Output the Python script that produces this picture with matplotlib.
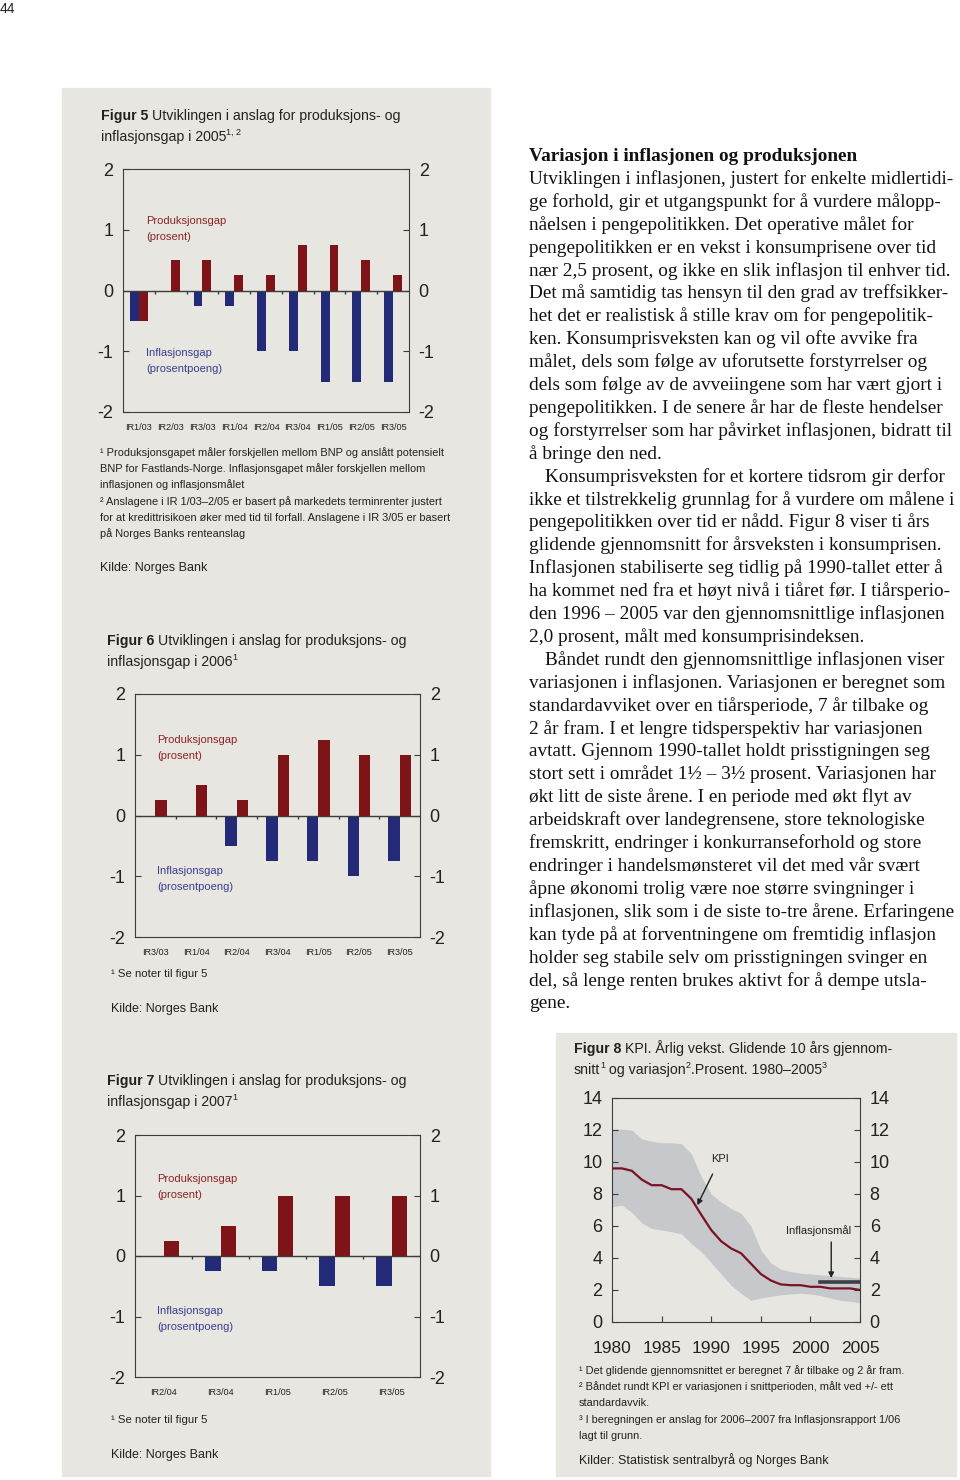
import numpy as np
import matplotlib.pyplot as plt
from matplotlib.patches import Rectangle

plt.rcParams['axes.unicode_minus'] = False

W, H = 960, 1480
SANS = ['Liberation Sans', 'DejaVu Sans']
SERIF = ['Liberation Serif', 'DejaVu Serif']
PANEL = '#e7e6e0'
RED = '#7e1417'
BLUE = '#232a78'
RED_TXT = '#8c2326'
BLUE_TXT = '#3b3f8f'
DARK = '#3c3c3c'

# figur 5
fig5_labels = ['IR1/03', 'IR2/03', 'IR3/03', 'IR1/04', 'IR2/04', 'IR3/04', 'IR1/05', 'IR2/05', 'IR3/05']
fig5_prod = [-0.5, 0.5, 0.5, 0.25, 0.25, 0.75, 0.75, 0.5, 0.25]
fig5_infl = [-0.5, 0, -0.25, -0.25, -1, -1, -1.5, -1.5, -1.5]

# figur 6
fig6_labels = ['IR3/03', 'IR1/04', 'IR2/04', 'IR3/04', 'IR1/05', 'IR2/05', 'IR3/05']
fig6_prod = [0.25, 0.5, 0.25, 1, 1.25, 1, 1]
fig6_infl = [0, 0, -0.5, -0.75, -0.75, -1, -0.75]

# figur 7
fig7_labels = ['IR2/04', 'IR3/04', 'IR1/05', 'IR2/05', 'IR3/05']
fig7_prod = [0.25, 0.5, 1, 1, 1]
fig7_infl = [0, -0.25, -0.25, -0.5, -0.5]

# figur 8
kpi_years = np.arange(1980, 2006)
kpi_mean = [9.6, 9.6, 9.45, 8.9, 8.55, 8.55, 8.3, 8.3, 7.7, 6.7, 5.75, 5.05, 4.6,
            4.3, 3.65, 3.0, 2.6, 2.35, 2.3, 2.3, 2.2, 2.2, 2.1, 2.1, 2.1, 2.0]
kpi_upper = [12.05, 12.05, 12.0, 11.45, 11.3, 11.2, 11.2, 11.15, 10.5, 9.1, 8.0, 7.5, 7.1,
             6.8, 6.0, 4.5, 3.7, 3.3, 3.15, 3.05, 3.0, 2.95, 2.9, 2.85, 2.8, 2.75]
kpi_lower = [7.2, 7.3, 6.85, 6.2, 5.85, 5.75, 5.65, 5.5, 4.9, 4.4, 3.7, 3.0, 2.3,
             1.8, 1.35, 1.5, 1.6, 1.7, 1.75, 1.8, 1.75, 1.65, 1.5, 1.35, 1.3, 1.2]
target_years = [2001, 2005]
target_level = [2.5, 2.5]

body_lines = [
    ('Utviklingen i inflasjonen, justert for enkelte midlertidi-', 0),
    ('ge forhold, gir et utgangspunkt for å vurdere målopp-', 0),
    ('nåelsen i pengepolitikken. Det operative målet for', 0),
    ('pengepolitikken er en vekst i konsumprisene over tid', 0),
    ('nær 2,5 prosent, og ikke en slik inflasjon til enhver tid.', 0),
    ('Det må samtidig tas hensyn til den grad av treffsikker-', 0),
    ('het det er realistisk å stille krav om for pengepolitik-', 0),
    ('ken. Konsumprisveksten kan og vil ofte avvike fra', 0),
    ('målet, dels som følge av uforutsette forstyrrelser og', 0),
    ('dels som følge av de avveiingene som har vært gjort i', 0),
    ('pengepolitikken. I de senere år har de fleste hendelser', 0),
    ('og forstyrrelser som har påvirket inflasjonen, bidratt til', 0),
    ('å bringe den ned.', 0),
    ('Konsumprisveksten for et kortere tidsrom gir derfor', 1),
    ('ikke et tilstrekkelig grunnlag for å vurdere om målene i', 0),
    ('pengepolitikken over tid er nådd. Figur 8 viser ti års', 0),
    ('glidende gjennomsnitt for årsveksten i konsumprisen.', 0),
    ('Inflasjonen stabiliserte seg tidlig på 1990-tallet etter å', 0),
    ('ha kommet ned fra et høyt nivå i tiåret før. I tiårsperio-', 0),
    ('den 1996 – 2005 var den gjennomsnittlige inflasjonen', 0),
    ('2,0 prosent, målt med konsumprisindeksen.', 0),
    ('Båndet rundt den gjennomsnittlige inflasjonen viser', 1),
    ('variasjonen i inflasjonen. Variasjonen er beregnet som', 0),
    ('standardavviket over en tiårsperiode, 7 år tilbake og', 0),
    ('2 år fram. I et lengre tidsperspektiv har variasjonen', 0),
    ('avtatt. Gjennom 1990-tallet holdt prisstigningen seg', 0),
    ('stort sett i området 1½ – 3½ prosent. Variasjonen har', 0),
    ('økt litt de siste årene. I en periode med økt flyt av', 0),
    ('arbeidskraft over landegrensene, store teknologiske', 0),
    ('fremskritt, endringer i konkurranseforhold og store', 0),
    ('endringer i handelsmønsteret vil det med vår svært', 0),
    ('åpne økonomi trolig være noe større svingninger i', 0),
    ('inflasjonen, slik som i de siste to-tre årene. Erfaringene', 0),
    ('kan tyde på at forventningene om fremtidig inflasjon', 0),
    ('holder seg stabile selv om prisstigningen svinger en', 0),
    ('del, så lenge renten brukes aktivt for å dempe utsla-', 0),
    ('gene.', 0),
]

TITLE = 10.2
LEGEND = 8.0
NOTE = 7.9
SOURCE = 9.0
TICK = 13
BODY = 13.9

fig = plt.figure(figsize=(9.6, 14.8), dpi=100)
fig.patch.set_facecolor('white')
renderer = fig.canvas.get_renderer()


def fx(x):
    return x / W


def fy(y):
    return 1 - y / H


def rect(x0, y0, x1, y1):
    return [x0 / W, 1 - y1 / H, (x1 - x0) / W, (y1 - y0) / H]


def txt(x, y, s, size, family=SANS, **kw):
    kw.setdefault('va', 'baseline')
    return fig.text(fx(x), fy(y), s, fontsize=size, family=family, **kw)


def seq(x, y, parts, family=SANS, color='#222222'):
    # parts: (text, size, weight, raise in px)
    for s, size, weight, dy in parts:
        t = txt(x, y - dy, s, size, family=family, weight=weight, color=color)
        x += t.get_window_extent(renderer).width


# grey panels
for x0, y0, x1, y1 in [(62, 88, 490, 1476), (556, 1033, 956, 1476)]:
    fig.add_artist(Rectangle((fx(x0), fy(y1)), (x1 - x0) / W, (y1 - y0) / H,
                             transform=fig.transFigure, color=PANEL, zorder=-5))

txt(0, 13, '44', 10, color='#222222')


def gap_chart(box, labels, prod, infl):
    ax = fig.add_axes(rect(*box))
    ax.set_facecolor('none')
    n = len(labels)
    x = np.arange(n)
    w = 0.28
    ax.bar(x - w / 2, infl, w, color=BLUE, zorder=2)
    ax.bar(x + w / 2, prod, w, color=RED, zorder=2)
    ax.axhline(0, color=DARK, lw=1, zorder=3)
    ax.vlines(np.arange(n - 1) + 0.5, -0.05, 0, color=DARK, lw=1, zorder=3)
    ax.set_xlim(-0.5, n - 0.5)
    ax.set_ylim(-2, 2)
    ax.set_yticks([-2, -1, 0, 1, 2], ['-2', '-1', '0', '1', '2'])
    ax.tick_params(axis='y', direction='in', left=True, right=True,
                   labelleft=True, labelright=True, length=4, width=0.8,
                   color=DARK, labelsize=TICK, pad=7, labelcolor='#222222')
    ax.set_xticks(x, labels)
    ax.tick_params(axis='x', length=0, labelsize=6.6, pad=8, labelcolor='#222222')
    for lab in ax.get_xticklabels() + ax.get_yticklabels():
        lab.set_family(SANS)
    for sp in ax.spines.values():
        sp.set_color(DARK)
        sp.set_linewidth(0.8)
    return ax


# ---- Figur 5
seq(101, 120, [('Figur 5 ', TITLE, 'bold', 0), ('Utviklingen i anslag for produksjons- og', TITLE, 'normal', 0)])
seq(101, 141, [('inflasjonsgap i 2005', TITLE, 'normal', 0), ('1, 2', 6.5, 'normal', 6)])
gap_chart((123, 169, 409, 412), fig5_labels, fig5_prod, fig5_infl)
txt(146, 224, 'Produksjonsgap', LEGEND, color=RED_TXT)
txt(146, 240, '(prosent)', LEGEND, color=RED_TXT)
txt(146, 356, 'Inflasjonsgap', LEGEND, color=BLUE_TXT)
txt(146, 372, '(prosentpoeng)', LEGEND, color=BLUE_TXT)
fn5 = ['¹ Produksjonsgapet måler forskjellen mellom BNP og anslått potensielt',
       'BNP for Fastlands-Norge. Inflasjonsgapet måler forskjellen mellom',
       'inflasjonen og inflasjonsmålet',
       '² Anslagene i IR 1/03–2/05 er basert på markedets terminrenter justert',
       'for at kredittrisikoen øker med tid til forfall. Anslagene i IR 3/05 er basert',
       'på Norges Banks renteanslag']
for i, line in enumerate(fn5):
    txt(100, 456 + i * 16.2, line, NOTE, color='#222222')
txt(100, 571, 'Kilde: Norges Bank', SOURCE, color='#222222')

# ---- Figur 6
seq(107, 645, [('Figur 6 ', TITLE, 'bold', 0), ('Utviklingen i anslag for produksjons- og', TITLE, 'normal', 0)])
seq(107, 666, [('inflasjonsgap i 2006', TITLE, 'normal', 0), ('1', 6.5, 'normal', 6)])
gap_chart((135, 694, 420, 937), fig6_labels, fig6_prod, fig6_infl)
txt(157, 743, 'Produksjonsgap', LEGEND, color=RED_TXT)
txt(157, 759, '(prosent)', LEGEND, color=RED_TXT)
txt(157, 874, 'Inflasjonsgap', LEGEND, color=BLUE_TXT)
txt(157, 890, '(prosentpoeng)', LEGEND, color=BLUE_TXT)
txt(111, 977, '¹ Se noter til figur 5', 8.2, color='#222222')
txt(111, 1012, 'Kilde: Norges Bank', SOURCE, color='#222222')

# ---- Figur 7
seq(107, 1085, [('Figur 7 ', TITLE, 'bold', 0), ('Utviklingen i anslag for produksjons- og', TITLE, 'normal', 0)])
seq(107, 1106, [('inflasjonsgap i 2007', TITLE, 'normal', 0), ('1', 6.5, 'normal', 6)])
gap_chart((135, 1135, 420, 1377), fig7_labels, fig7_prod, fig7_infl)
txt(157, 1182, 'Produksjonsgap', LEGEND, color=RED_TXT)
txt(157, 1198, '(prosent)', LEGEND, color=RED_TXT)
txt(157, 1314, 'Inflasjonsgap', LEGEND, color=BLUE_TXT)
txt(157, 1330, '(prosentpoeng)', LEGEND, color=BLUE_TXT)
txt(111, 1423, '¹ Se noter til figur 5', 8.2, color='#222222')
txt(111, 1458, 'Kilde: Norges Bank', SOURCE, color='#222222')

# ---- Figur 8
seq(574, 1053, [('Figur 8 ', TITLE, 'bold', 0), ('KPI. Årlig vekst. Glidende 10 års gjennom-', TITLE, 'normal', 0)])
seq(574, 1074, [('snitt', TITLE, 'normal', 0), ('1', 6.5, 'normal', 6),
                (' og variasjon', TITLE, 'normal', 0), ('2', 6.5, 'normal', 6),
                ('.Prosent. 1980–2005', TITLE, 'normal', 0), ('3', 6.5, 'normal', 6)])
ax8 = fig.add_axes(rect(612, 1098, 860, 1322))
ax8.set_facecolor('none')
ax8.fill_between(kpi_years, kpi_lower, kpi_upper, color='#c7c8cc', lw=0, zorder=1)
ax8.plot(kpi_years, kpi_mean, color='#7a1224', lw=1.6, zorder=3)
ax8.plot(target_years, target_level, color='#3b3f46', lw=2.6, zorder=3)
ax8.set_xlim(1980, 2005)
ax8.set_ylim(0, 14)
ax8.set_xticks(range(1980, 2006, 5))
ax8.set_yticks(range(0, 15, 2))
ax8.tick_params(axis='y', direction='in', left=True, right=True,
                labelleft=True, labelright=True, length=4, width=0.8,
                color=DARK, labelsize=TICK, pad=7, labelcolor='#222222')
ax8.tick_params(axis='x', direction='in', length=4, width=0.8, color=DARK,
                labelsize=12.5, pad=13.5, labelcolor='#222222')
for lab in ax8.get_xticklabels() + ax8.get_yticklabels():
    lab.set_family(SANS)
for sp in ax8.spines.values():
    sp.set_color(DARK)
    sp.set_linewidth(0.8)
ax8.annotate('KPI', xy=(1988.6, 7.3), xytext=(1990.9, 10.2), fontsize=LEGEND,
             family=SANS, ha='center', va='center', color='#222222',
             arrowprops=dict(arrowstyle='-|>', color='#222222', lw=1,
                             mutation_scale=8, shrinkA=6, shrinkB=0))
ax8.annotate('Inflasjonsmål', xy=(2002.1, 2.7), xytext=(2000.8, 5.7), fontsize=LEGEND,
             family=SANS, ha='center', va='center', color='#222222')
ax8.annotate('', xy=(2002.1, 2.75), xytext=(2002.1, 5.0),
             arrowprops=dict(arrowstyle='-|>', color='#222222', lw=1,
                             mutation_scale=8, shrinkA=0, shrinkB=0))
fn8 = ['¹ Det glidende gjennomsnittet er beregnet 7 år tilbake og 2 år fram.',
       '² Båndet rundt KPI er variasjonen i snittperioden, målt ved +/- ett',
       'standardavvik.',
       '³ I beregningen er anslag for 2006–2007 fra Inflasjonsrapport 1/06',
       'lagt til grunn.']
for i, line in enumerate(fn8):
    txt(579, 1374 + i * 16.2, line, NOTE, color='#222222')
txt(579, 1464, 'Kilder: Statistisk sentralbyrå og Norges Bank', SOURCE, color='#222222')

# ---- body text
txt(529, 161, 'Variasjon i inflasjonen og produksjonen', BODY, family=SERIF,
    weight='bold', color='#111111')
for i, (line, indent) in enumerate(body_lines):
    txt(529 + 16 * indent, 184 + i * 22.9, line, BODY, family=SERIF, color='#111111')

fig.savefig('out.png', dpi=100)
